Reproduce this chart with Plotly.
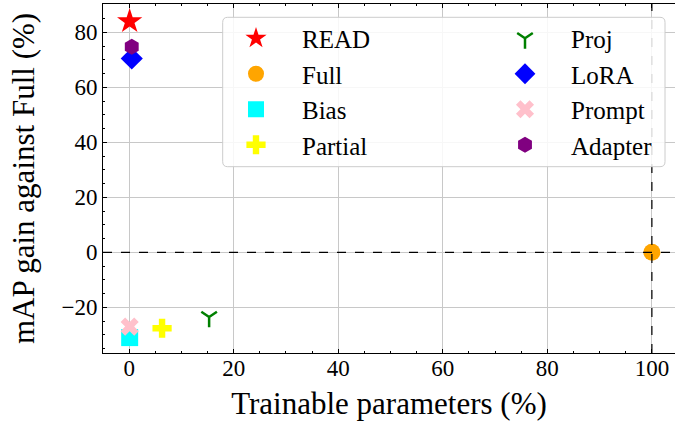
import plotly.graph_objects as go

# ---- data ----
methods = ["READ", "Full", "Bias", "Partial", "Proj", "LoRA", "Prompt", "Adapter"]
trainable_params = [0.1, 100.0, 0.1, 6.3, 15.3, 0.5, 0.1, 0.5]
map_gain = [84.0, 0.0, -31.0, -27.6, -23.5, 70.5, -27.0, 74.8]

colors = ["red", "orange", "cyan", "yellow", "green", "blue", "pink", "purple"]
symbols = ["star", "circle", "square", "cross", "y-down", "diamond", "x", "hexagon"]
sizes = [19, 17, 17, 16, 13, 17, 16, 16]
legend_ref = ["legend", "legend", "legend", "legend", "legend2", "legend2", "legend2", "legend2"]

x_ticks = [0, 20, 40, 60, 80, 100]
y_ticks = [-20, 0, 20, 40, 60, 80]

FONT = "Liberation Serif, Times New Roman, serif"

fig = go.Figure()
for m, xv, yv, c, s, sz, lg in zip(methods, trainable_params, map_gain, colors, symbols, sizes, legend_ref):
    if s == "y-down":
        marker = dict(symbol=s, size=sz, color=c, line=dict(color=c, width=2.5))
    else:
        marker = dict(symbol=s, size=sz, color=c, line=dict(width=0))
    fig.add_trace(go.Scatter(x=[xv], y=[yv], mode="markers", name=m, marker=marker,
                             legend=lg, showlegend=True))

# dashed reference lines
fig.add_shape(type="line", xref="x domain", yref="y", x0=0, x1=1, y0=0, y1=0,
              line=dict(color="black", width=1.2, dash="dash"), layer="above")
fig.add_shape(type="line", xref="x", yref="y domain", x0=100, x1=100, y0=0, y1=1,
              line=dict(color="black", width=1.2, dash="dash"), layer="above")

# legend frame (rounded box)
L, R, T, B = 222.7, 665.0, 17.3, 166.7
PL, PW, PT, PH = 103.0, 572.0, 4.0, 349.0
def px2paper(px, py):
    return (px - PL) / PW, 1 - (py - PT) / PH
r = 5
x0, y0 = L, T
x1, y1 = R, B
def P(px, py):
    a, b = px2paper(px, py)
    return f"{a:.5f},{b:.5f}"
path = (f"M {P(x0 + r, y0)} L {P(x1 - r, y0)} Q {P(x1, y0)} {P(x1, y0 + r)} "
        f"L {P(x1, y1 - r)} Q {P(x1, y1)} {P(x1 - r, y1)} L {P(x0 + r, y1)} "
        f"Q {P(x0, y1)} {P(x0, y1 - r)} L {P(x0, y0 + r)} Q {P(x0, y0)} {P(x0 + r, y0)} Z")
fig.add_shape(type="path", xref="paper", yref="paper", path=path,
              fillcolor="rgba(255,255,255,0.85)", line=dict(color="#cccccc", width=1), layer="above")

axis_common = dict(
    showline=True, linecolor="black", linewidth=1,
    ticks="inside", ticklen=4, tickwidth=1, tickcolor="black",
    showgrid=True, gridcolor="#c8c8c8", gridwidth=1, zeroline=False,
    tickfont=dict(family=FONT, size=23, color="black"),
    minor=dict(ticks="inside", ticklen=2, tickwidth=1, tickcolor="black", dtick=5, showgrid=False),
)

fig.update_layout(
    width=675, height=421,
    margin=dict(l=103, r=0, t=4, b=68),
    paper_bgcolor="white", plot_bgcolor="white",
    font=dict(family=FONT, color="black"),
    xaxis=dict(**axis_common, range=[-5, 104.42], tickvals=x_ticks, mirror="ticks",
               ticklabelstandoff=-6,
               title=dict(text="Trainable parameters (%)", font=dict(family=FONT, size=31), standoff=14)),
    yaxis=dict(**axis_common, range=[-36.6, 90.3], tickvals=y_ticks,
               ticklabelstandoff=0,
               title=dict(text="mAP gain against Full (%)", font=dict(family=FONT, size=31), standoff=17)),
    legend=dict(x=px2paper(210, 0)[0], y=px2paper(0, 15.5)[1], xanchor="left", yanchor="top",
                bgcolor="rgba(0,0,0,0)", borderwidth=0, itemwidth=82,
                font=dict(family=FONT, size=25, color="black")),
    legend2=dict(x=px2paper(479, 0)[0], y=px2paper(0, 15.5)[1], xanchor="left", yanchor="top",
                 bgcolor="rgba(0,0,0,0)", borderwidth=0, itemwidth=82,
                 font=dict(family=FONT, size=25, color="black")),
)

fig.write_html("out.html", config={"responsive": False, "displayModeBar": False},
               post_script="document.body.style.margin='0';document.body.style.padding='0';")
